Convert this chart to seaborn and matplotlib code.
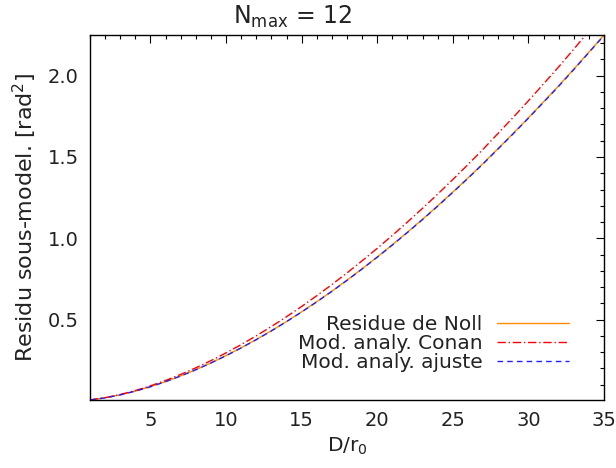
import numpy as np
import pandas as pd
import matplotlib
matplotlib.use("Agg")
import matplotlib.pyplot as plt
import seaborn as sns
from matplotlib.ticker import MultipleLocator, FixedLocator

d_r0 = list(range(1, 36))
noll = [0.0060, 0.0191, 0.0375, 0.0606, 0.0878, 0.1190, 0.1539, 0.1923, 0.2340, 0.2789,
        0.3269, 0.3779, 0.4318, 0.4886, 0.5481, 0.6104, 0.6752, 0.7428, 0.8129, 0.8853,
        0.9604, 1.0378, 1.1176, 1.1998, 1.2845, 1.3710, 1.4599, 1.5525, 1.6456, 1.7411,
        1.8391, 1.9376, 2.0403, 2.1449, 2.2500]
conan = [0.0064, 0.0202, 0.0398, 0.0642, 0.0931, 0.1261, 0.1631, 0.2038, 0.2480, 0.2956,
         0.3465, 0.4006, 0.4577, 0.5179, 0.5810, 0.6470, 0.7157, 0.7874, 0.8617, 0.9384,
         1.0180, 1.1001, 1.1847, 1.2718, 1.3616, 1.4533, 1.5475, 1.6457, 1.7443, 1.8456,
         1.9494, 2.0539, 2.1627, 2.2736, 2.3850]
ajuste = [0.0060, 0.0190, 0.0374, 0.0605, 0.0876, 0.1188, 0.1536, 0.1919, 0.2335, 0.2783,
          0.3263, 0.3772, 0.4310, 0.4877, 0.5471, 0.6093, 0.6740, 0.7415, 0.8115, 0.8838,
          0.9588, 1.0361, 1.1158, 1.1979, 1.2825, 1.3689, 1.4577, 1.5502, 1.6432, 1.7386,
          1.8365, 1.9349, 2.0375, 2.1420, 2.2470]
labels = ["Residue de Noll", "Mod. analy. Conan", "Mod. analy. ajuste"]
title = r"N$_{\rm max}$ = 12"
xlabel = r"D/r$_0$"
ylabel = r"Residu sous-model. [rad$^2$]"

sns.set_theme(style="white")
plt.rcParams["font.family"] = ["DejaVu Sans"]
plt.rcParams["mathtext.fontset"] = "dejavusans"

fig = plt.figure(figsize=(6.16, 4.68), dpi=100)
ax = fig.add_axes([90/616, 1 - 400/468, (604-90)/616, (400-35)/468])

df = pd.DataFrame({"x": d_r0, "noll": noll, "conan": conan, "ajuste": ajuste})
sns.lineplot(data=df, x="x", y="noll", ax=ax, color="#FF8C00", lw=1.0, label=labels[0])
sns.lineplot(data=df, x="x", y="conan", ax=ax, color="#FF0000", lw=1.0,
             linestyle=(0, (6, 2, 1, 2)), label=labels[1])
sns.lineplot(data=df, x="x", y="ajuste", ax=ax, color="#2020FF", lw=1.0,
             linestyle=(0, (4, 3)), label=labels[2])

ax.set_xlim(min(d_r0), max(d_r0))
ax.set_ylim(min(noll), max(noll))
ax.xaxis.set_major_locator(FixedLocator([5, 10, 15, 20, 25, 30, 35]))
ax.xaxis.set_minor_locator(MultipleLocator(1))
ax.yaxis.set_major_locator(FixedLocator([0.5, 1.0, 1.5, 2.0]))
ax.yaxis.set_minor_locator(MultipleLocator(0.1))
ax.yaxis.set_major_formatter(matplotlib.ticker.FormatStrFormatter("%.1f"))
ax.tick_params(which="both", direction="in", top=True, right=True, color="black",
               width=0.8, labelsize=14, labelcolor="#222222")
ax.tick_params(which="major", length=6, pad=8)
ax.tick_params(which="minor", length=3)
for s in ax.spines.values():
    s.set_color("black")
    s.set_linewidth(1.0)

fig.text(293/616, 1 - 24/468, title, fontsize=17, color="#222222", ha="center", va="baseline")
ax.set_xlabel(xlabel, fontsize=14.5, color="#222222", labelpad=4)
ax.set_ylabel(ylabel, fontsize=16, color="#222222", labelpad=6)

leg = ax.legend(loc="lower right", bbox_to_anchor=(0.948, 0.055), frameon=False,
                markerfirst=False, fontsize=14.5, handlelength=3.6, labelspacing=0.0,
                handletextpad=0.7, borderaxespad=0)
for t in leg.get_texts():
    t.set_color("#222222")
fig.savefig("out.png", dpi=100)
